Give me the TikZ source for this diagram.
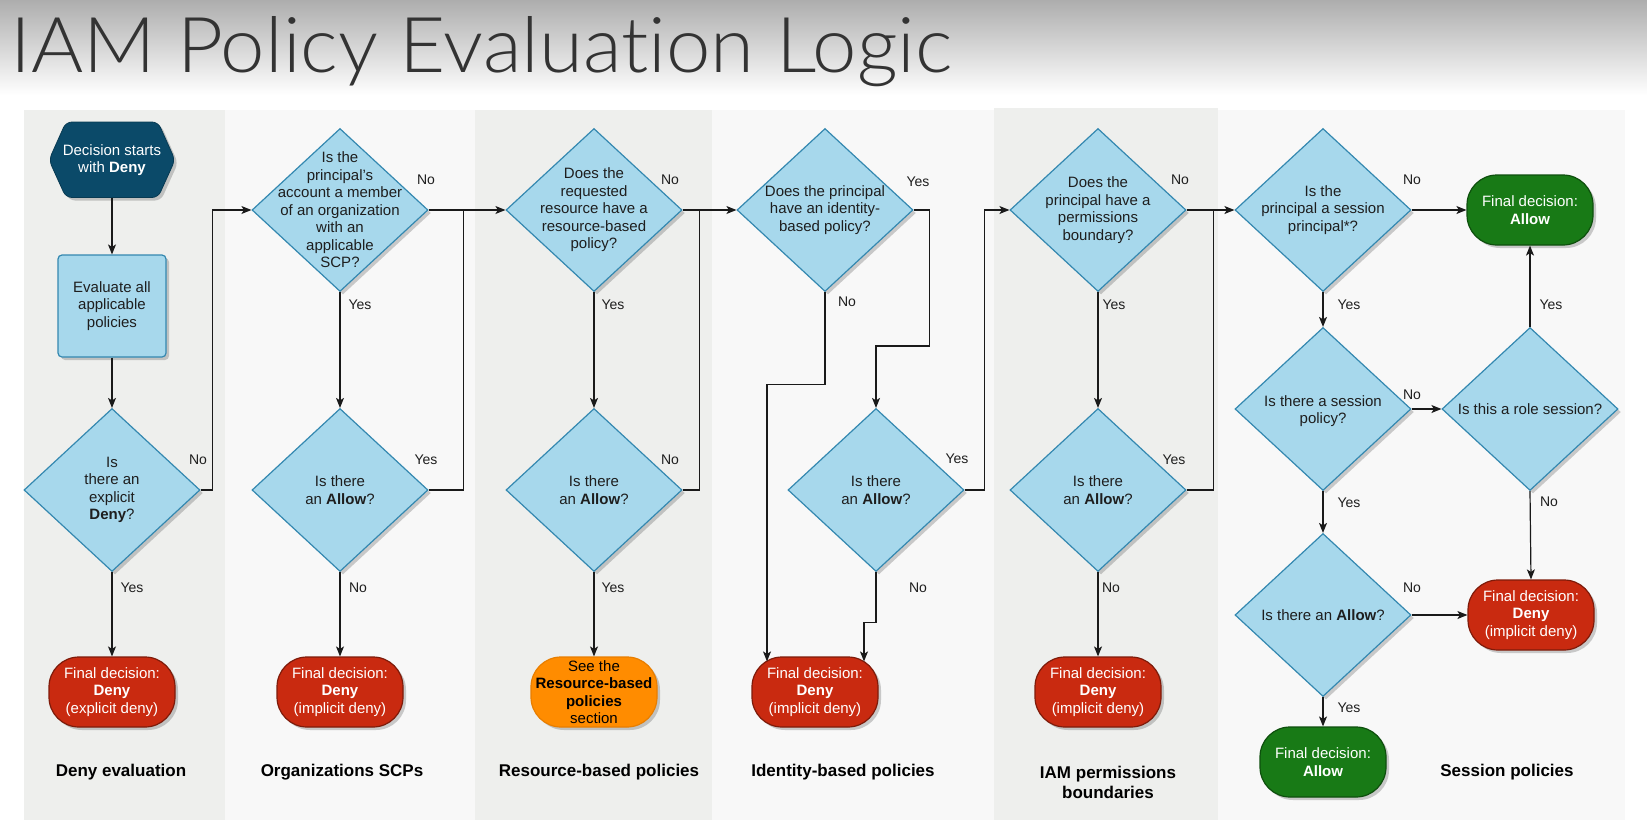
\documentclass[tikz,border=0pt]{standalone}
\usepackage{fontspec}
\setmainfont{Liberation Sans}
\newfontfamily\titlefont[Ligatures=NoCommon]{Lato Light}
\usetikzlibrary{shapes.geometric,shadows,arrows.meta,calc}

\definecolor{lanedark}{HTML}{EEEFED}
\definecolor{lanelight}{HTML}{F8F8F8}
\definecolor{diafill}{HTML}{A7D8EC}
\definecolor{diaedge}{HTML}{3488B0}
\definecolor{hexfill}{HTML}{0B4A69}
\definecolor{hexedge}{HTML}{083A52}
\definecolor{redfill}{HTML}{C92A10}
\definecolor{rededge}{HTML}{7E1B0A}
\definecolor{orfill}{HTML}{FF8C00}
\definecolor{oredge}{HTML}{E87E00}
\definecolor{grfill}{HTML}{187A16}
\definecolor{gredge}{HTML}{0E4F0D}
\definecolor{titlecol}{HTML}{333333}
\definecolor{linecol}{HTML}{1A1A1A}
\definecolor{txtcol}{HTML}{1E1E1E}

\tikzset{
  shadowed/.style={drop shadow={shadow xshift=3pt,shadow yshift=-3pt,opacity=0.28,fill=black!70}},
  dia/.style={diamond, draw=diaedge, fill=diafill, line width=1.2pt,
    minimum width=176pt, minimum height=163pt, inner sep=0pt, shadowed},
  dtxt/.style={align=center, inner sep=0pt, text=txtcol,
    font=\fontsize{15}{17.5}\selectfont},
  term/.style={rectangle, rounded corners=30pt, minimum width=126pt,
    minimum height=70pt, line width=1.2pt, align=center, inner sep=0pt,
    font=\fontsize{15}{17.5}\selectfont, shadowed},
  redterm/.style={term, fill=redfill, draw=rededge, text=white},
  greenterm/.style={term, fill=grfill, draw=gredge, text=white},
  orterm/.style={term, fill=orfill, draw=oredge, text=black},
  evalbox/.style={rectangle, rounded corners=4pt, draw=diaedge, fill=diafill,
    line width=1.2pt, minimum width=108pt, minimum height=102pt, align=center,
    inner sep=0pt, text=txtcol, font=\fontsize{15}{17.5}\selectfont, shadowed},
  arr/.style={-{Stealth[length=10pt,width=8pt,inset=2.5pt]}, line width=1.2pt, draw=linecol},
  conn/.style={line width=1.2pt, draw=linecol},
  lbl/.style={inner sep=0pt, text=txtcol, font=\fontsize{14}{16}\selectfont},
  lanelbl/.style={inner sep=0pt, align=center, text=black,
    font=\bfseries\fontsize{17}{20}\selectfont},
}

\begin{document}
\begin{tikzpicture}[x=1pt,y=-1pt]
\useasboundingbox (0,0) rectangle (1647,827);
\fill[white] (0,0) rectangle (1647,827);
\shade[top color=black!32, bottom color=white] (0,0) rectangle (1647,95);

% lanes
\fill[lanedark]  (24,110) rectangle (225,820);
\fill[lanelight] (225,110) rectangle (475,820);
\fill[lanedark]  (475,110) rectangle (712,820);
\fill[lanelight] (712,110) rectangle (994,820);
\fill[lanedark]  (994,108) rectangle (1218,820);
\fill[lanelight] (1218,110) rectangle (1625,820);

% title
\node[anchor=base west, inner sep=0pt, text=titlecol, xscale=1.035,
  font=\titlefont\fontsize{77}{80}\selectfont] (title) at (10,72) {IAM Policy Evaluation Logic};

% start hexagon
\path[fill=hexfill, draw=hexedge, line width=0.8pt, rounded corners=6pt, shadowed]
  (49,160) -- (66,122) -- (158,122) -- (175,160) -- (158,197.5) -- (66,197.5) -- cycle;
\node[minimum width=126pt, minimum height=75pt, inner sep=0pt, align=center, text=white,
  font=\fontsize{15}{17.5}\selectfont] (hex) at (112,160) {Decision starts\\with \textbf{Deny}};

\node[evalbox] (eval) at (112,306) {Evaluate all\\applicable\\policies};

% diamonds
\node[dia] (d1) at (112,490) {};
\node[dtxt] (t1) at (d1) {Is\\there an\\explicit\\\textbf{Deny}?};
\node[dia] (d2) at (340,210) {};
\node[dtxt] (t2) at (d2) {Is the\\principal's\\account a member\\of an organization\\with an\\applicable\\SCP?};
\node[dia] (d2b) at (340,490) {};
\node[dtxt] (t2b) at (d2b) {Is there\\an \textbf{Allow}?};
\node[dia] (d3) at (594,210) {};
\node[dtxt] (t3) at (d3) {Does the\\requested\\resource have a\\resource-based\\policy?};
\node[dia] (d3b) at (594,490) {};
\node[dtxt] (t3b) at (d3b) {Is there\\an \textbf{Allow}?};
\node[dia] (d4) at (825,210) {};
\node[dtxt] (t4) at (d4) {Does the principal\\have an identity-\\based policy?};
\node[dia] (d4b) at (876,490) {};
\node[dtxt] (t4b) at (d4b) {Is there\\an \textbf{Allow}?};
\node[dia] (d5) at (1098,210) {};
\node[dtxt] (t5) at (d5) {Does the\\principal have a\\permissions\\boundary?};
\node[dia] (d5b) at (1098,490) {};
\node[dtxt] (t5b) at (d5b) {Is there\\an \textbf{Allow}?};
\node[dia] (d6) at (1323,210) {};
\node[dtxt] (t6) at (d6) {Is the\\principal a session\\principal*?};
\node[dia] (d7) at (1323,409) {};
\node[dtxt] (t7) at ($(d7)+(0,2)$) {Is there a session\\policy?};
\node[dia] (d8) at (1530,409) {};
\node[dtxt] (t8) at (d8) {Is this a role session?};
\node[dia] (d9) at (1323,615) {};
\node[dtxt] (t9) at (d9) {Is there an \textbf{Allow}?};

% terminals
\node[redterm] (r1) at (112,692) {Final decision:\\\textbf{Deny}\\(explicit deny)};
\node[redterm] (r2) at (340,692) {Final decision:\\\textbf{Deny}\\(implicit deny)};
\node[orterm]  (o3) at (594,692) {See the\\\textbf{Resource-based}\\\textbf{policies}\\section};
\node[redterm] (r4) at (815,692) {Final decision:\\\textbf{Deny}\\(implicit deny)};
\node[redterm] (r5) at (1098,692) {Final decision:\\\textbf{Deny}\\(implicit deny)};
\node[greenterm] (g1) at (1530,210) {Final decision:\\\textbf{Allow}};
\node[redterm] (r6) at (1531,615) {Final decision:\\\textbf{Deny}\\(implicit deny)};
\node[greenterm] (g2) at (1323,762) {Final decision:\\\textbf{Allow}};

% connectors
\draw[arr] (hex.south) -- (eval.north);
\draw[arr] (eval.south) -- (d1.north);
\draw[arr] (d1.south) -- (r1.north);
\draw[arr] (d1.east) -- ++(12,0) |- (d2.west);
\draw[arr] (d2.south) -- (d2b.north);
\draw[arr] (d2b.south) -- (r2.north);
\draw[arr] (d2.east) -- (d3.west);
\draw[conn] (d2b.east) -- ++(35,0) |- (d2.east);
\draw[arr] (d3.south) -- (d3b.north);
\draw[arr] (d3b.south) -- (o3.north);
\draw[arr] (d3.east) -- (d4.west);
\draw[conn] (d3b.east) -- ++(17,0) |- (d3.east);
\draw[arr] (d4.east) -- ++(16,0) |- ($(d4b.north)+(0,-62)$) -- (d4b.north);
\draw[arr] (d4.south) -- ++(0,92) -| ($(r4.north)+(-48,5)$);
\draw[arr] (d4b.south) -- ++(0,50) -| ($(r4.north)+(49,5)$);
\draw[arr] (d4b.east) -- ++(20,0) |- (d5.west);
\draw[arr] (d5.south) -- (d5b.north);
\draw[arr] (d5b.south) -- (r5.north);
\draw[arr] (d5.east) -- (d6.west);
\draw[conn] (d5b.east) -- ++(27,0) |- (d5.east);
\draw[arr] (d6.east) -- (g1.west);
\draw[arr] (d6.south) -- (d7.north);
\draw[arr] (d7.east) -- (d8.west);
\draw[arr] (d8.north) -- (g1.south);
\draw[arr] (d8.south) -- (r6.north);
\draw[arr] (d7.south) -- (d9.north);
\draw[arr] (d9.east) -- (r6.west);
\draw[arr] (d9.south) -- (g2.north);

% connector labels
\node[lbl] (l1n) at (198,460) {No};
\node[lbl] (l1y) at (132,588) {Yes};
\node[lbl] (l2n) at (426,180) {No};
\node[lbl] (l2y) at (360,305) {Yes};
\node[lbl] (l2by) at (426,460) {Yes};
\node[lbl] (l2bn) at (358,588) {No};
\node[lbl] (l3n) at (670,180) {No};
\node[lbl] (l3y) at (613,305) {Yes};
\node[lbl] (l3bn) at (670,460) {No};
\node[lbl] (l3by) at (613,588) {Yes};
\node[lbl] (l4y) at (918,182) {Yes};
\node[lbl] (l4n) at (847,302) {No};
\node[lbl] (l4by) at (957,459) {Yes};
\node[lbl] (l4bn) at (918,588) {No};
\node[lbl] (l5n) at (1180,180) {No};
\node[lbl] (l5y) at (1114,305) {Yes};
\node[lbl] (l5by) at (1174,460) {Yes};
\node[lbl] (l5bn) at (1111,588) {No};
\node[lbl] (l6n) at (1412,180) {No};
\node[lbl] (l6y) at (1349,305) {Yes};
\node[lbl] (l7n) at (1412,395) {No};
\node[lbl] (l8y) at (1551,305) {Yes};
\node[lbl] (l8n) at (1549,502) {No};
\node[lbl] (l7y) at (1349,503) {Yes};
\node[lbl] (l9n) at (1412,588) {No};
\node[lbl] (l9y) at (1349,708) {Yes};

% lane labels
\node[lanelbl] (ln1) at (121,772) {Deny evaluation};
\node[lanelbl] (ln2) at (342,772) {Organizations SCPs};
\node[lanelbl] (ln3) at (599,772) {Resource-based policies};
\node[lanelbl] (ln4) at (843,772) {Identity-based policies};
\node[lanelbl] (ln5) at (1108,782) {IAM permissions\\boundaries};
\node[lanelbl] (ln6) at (1507,772) {Session policies};
\end{tikzpicture}
\end{document}
